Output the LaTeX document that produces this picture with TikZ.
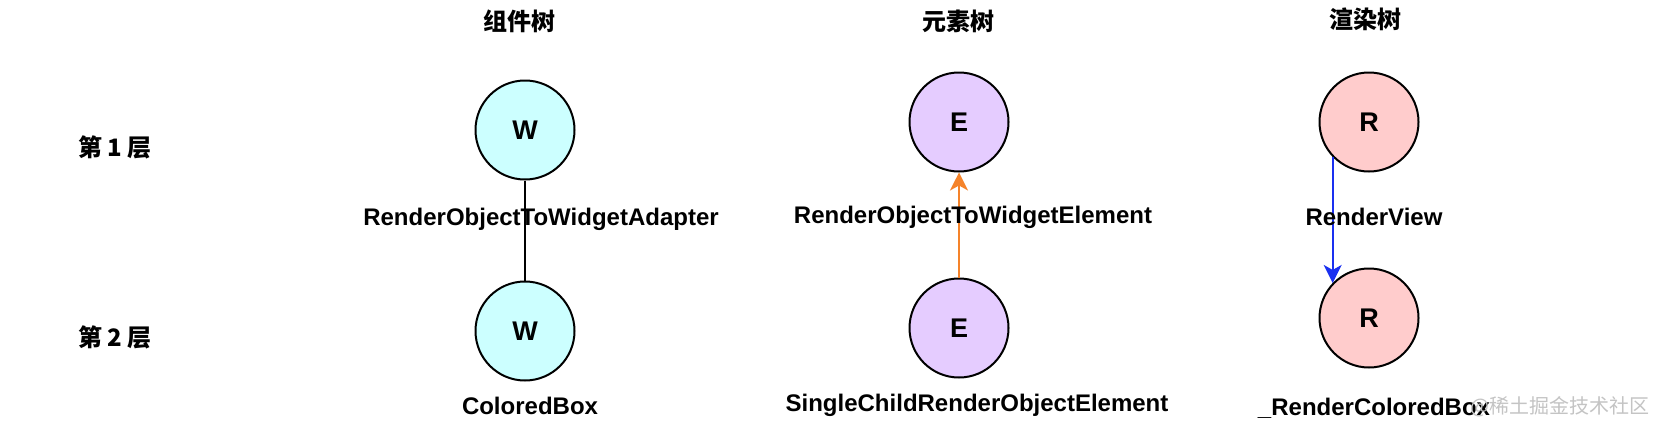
\documentclass[tikz,border=0pt]{standalone}
\usepackage{fontspec}
\setmainfont{Liberation Sans}
\newfontfamily\cjk{Noto Sans CJK SC}
\usetikzlibrary{arrows.meta}
\definecolor{wfill}{HTML}{CCFFFF}
\definecolor{efill}{HTML}{E5CCFF}
\definecolor{rfill}{HTML}{FFCCCC}
\definecolor{orangeline}{HTML}{F5832A}
\definecolor{blueline}{HTML}{1A30F0}
\definecolor{wmark}{HTML}{C4C4C4}
\tikzset{
  treenode/.style={circle, draw=black, line width=2pt, minimum size=99pt, inner sep=0pt,
    font=\fontsize{27}{30}\selectfont\bfseries},
  wnode/.style={treenode, fill=wfill},
  enode/.style={treenode, fill=efill},
  rnode/.style={treenode, fill=rfill},
  namelabel/.style={anchor=base, inner sep=0pt, font=\fontsize{24}{28}\selectfont\bfseries},
  title/.style={inner sep=0pt, font=\cjk\fontsize{24}{28}\selectfont\bfseries},
  plainlink/.style={draw=black, line width=1.6pt},
  orangelink/.style={draw=orangeline, line width=1.8pt, -{Stealth[length=18pt,width=18pt,inset=5pt]}},
  bluelink/.style={draw=blueline, line width=1.8pt, -{Stealth[length=18pt,width=18pt,inset=5pt]}},
  watermark/.style={inner sep=0pt, text=wmark, font=\cjk\fontsize{20}{24}\selectfont}
}
\begin{document}
\begin{tikzpicture}[x=1pt,y=-1pt]
\useasboundingbox[fill=white] (0,0) rectangle (1654,434);
% titles
\node[title] (t1) at (519,21) {组件树};
\node[title] (t2) at (958,21) {元素树};
\node[title] (t3) at (1365,19) {渲染树};
\node[title] (l1) at (115,147) {第 1 层};
\node[title] (l2) at (115,337) {第 2 层};
% nodes
\node[wnode] (W1) at (525,130) {W};
\node[wnode] (W2) at (525,331) {W};
\node[enode] (E1) at (959,122) {E};
\node[enode] (E2) at (959,328) {E};
\node[rnode] (R1) at (1369,122) {R};
\node[rnode] (R2) at (1369,318) {R};
% connectors
\draw[plainlink] (W1) -- (W2);
\draw[orangelink] (E2) -- (E1);
\draw[bluelink] (R1.224) -- (R2.136);
% labels
\node[namelabel] (a1) at (541,225) {RenderObjectToWidgetAdapter};
\node[namelabel] (a2) at (530,414) {ColoredBox};
\node[namelabel] (b1) at (973,223) {RenderObjectToWidgetElement};
\node[namelabel] (b2) at (977,411) {SingleChildRenderObjectElement};
\node[namelabel] (c1) at (1374,225) {RenderView};
\node[namelabel] (c2) at (1374,415) {\_RenderColoredBox};
\node[watermark] (wm) at (1560,407) {@稀土掘金技术社区};
\end{tikzpicture}
\end{document}
